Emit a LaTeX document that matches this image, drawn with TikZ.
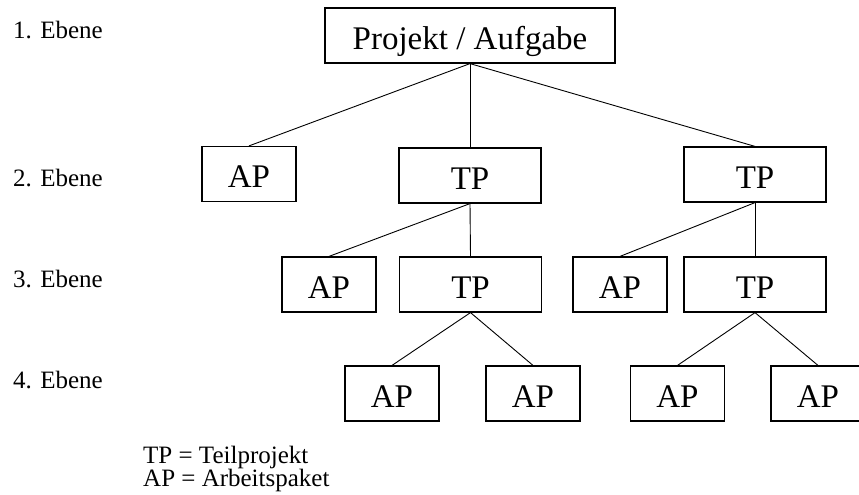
\documentclass[tikz,border=0pt]{standalone}
\usepackage{fontspec}
\setmainfont{Liberation Serif}
\begin{document}
\begin{tikzpicture}[x=1pt,y=-1pt,
  box/.style={draw, line width=1.2pt, minimum height=55pt, inner sep=0pt,
    text height=27pt, text depth=0pt,
    font=\fontsize{33}{38}\selectfont},
  narrow/.style={box, minimum width=94pt},
  wide/.style={box, minimum width=142pt},
  lvl/.style={anchor=base west, inner sep=0pt, font=\fontsize{25}{29}\selectfont},
  link/.style={line width=0.9pt}]
\useasboundingbox (0,0) rectangle (859,495);

% level labels
\node[lvl] (e1) at (13,38) {1. Ebene};
\node[lvl] (e2) at (13,186) {2. Ebene};
\node[lvl] (e3) at (13,287) {3. Ebene};
\node[lvl] (e4) at (13,388) {4. Ebene};

% level 1
\node[box, minimum width=290pt] (root) at (470,35.5) {Projekt / Aufgabe};

% level 2
\node[narrow] (apA) at (249,174) {AP};
\node[wide] (tpL) at (470,175.5) {TP};
\node[wide] (tpR) at (755,174.5) {TP};

% level 3
\node[narrow] (apB) at (329,284.5) {AP};
\node[wide] (tpLL) at (470.5,284.5) {TP};
\node[narrow] (apC) at (620,284.5) {AP};
\node[wide] (tpRR) at (755,284.5) {TP};

% level 4
\node[narrow] (ap1) at (392,393.5) {AP};
\node[narrow] (ap2) at (533,393.5) {AP};
\node[narrow] (ap3) at (677.5,393.5) {AP};
\node[narrow] (ap4) at (818,393.5) {AP};

% connectors
\draw[link] (root.south) -- (apA.north);
\draw[link] (root.south) -- (tpL.north);
\draw[link] (root.south) -- (tpR.north);
\draw[link] (tpL.south) -- (apB.north);
\draw[link] (tpL.south) -- (tpLL.north);
\draw[link] (tpR.south) -- (apC.north);
\draw[link] (tpR.south) -- (tpRR.north);
\draw[link] (tpLL.south) -- (ap1.north);
\draw[link] (tpLL.south) -- (ap2.north);
\draw[link] (tpRR.south) -- (ap3.north);
\draw[link] (tpRR.south) -- (ap4.north);

% legend
\node[lvl] (lg1) at (143,463) {TP = Teilprojekt};
\node[lvl] (lg2) at (143,486) {AP = Arbeitspaket};
\end{tikzpicture}
\end{document}
